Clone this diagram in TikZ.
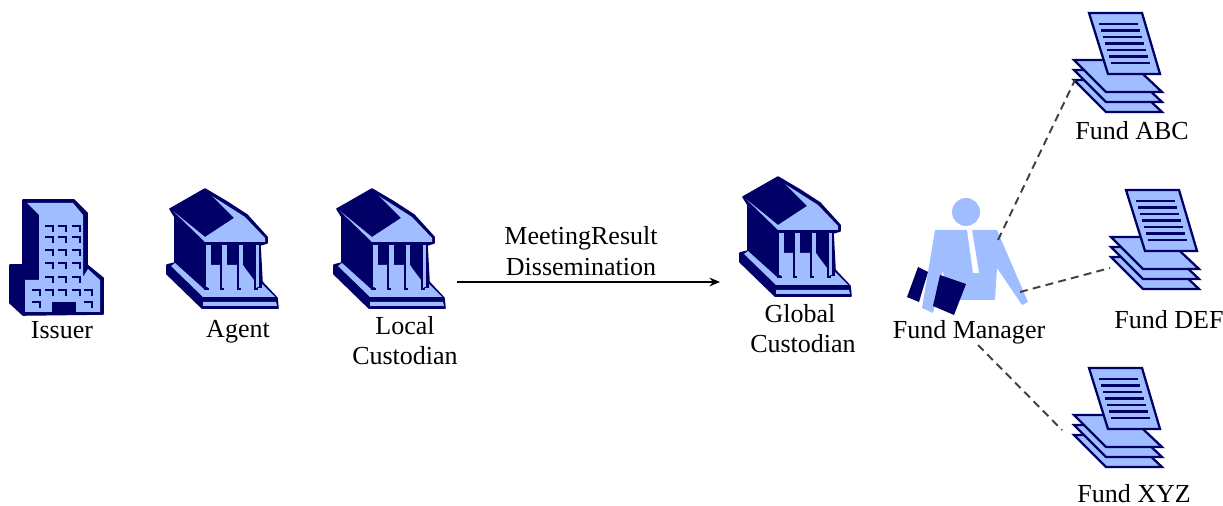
\documentclass[tikz,border=0pt]{standalone}
\usepackage{fontspec}
\setmainfont{Liberation Serif}
\usepackage{tikz}
\usetikzlibrary{arrows.meta}
\definecolor{navy}{HTML}{000066}
\definecolor{pale}{HTML}{A0BEFF}
\tikzset{
  lbl/.style = {font=\fontsize{14.8}{16}\selectfont, inner sep = 0, text = black},
  dashln/.style = {black!75, line width = 1.1pt, dash pattern = on 4.5pt off 3pt},
  lightfill/.style = {fill = pale, draw = navy, line width = 1.3pt, line join = miter},
  darkfill/.style = {fill = navy, draw = navy, line width = 0.9pt, line join = round},
  winln/.style = {navy, line width = 1.3pt},
  bank/.pic = {
    \draw [darkfill] (38, -1) -- (60, 12) -- (80, 25) -- (100, 47) -- (100, 53) -- (93, 55)
      -- (95, 92) -- (110, 108) -- (111, 118) -- (35, 118) -- (0, 84) -- (0, 75) -- (8, 73) -- (8, 27) -- (3, 19) -- cycle;
    \fill [pale] (45, 6) -- (78, 27) -- (98, 48) -- (98, 52) -- (38, 52) -- (6, 21) -- (38, 47) -- (67, 28) -- cycle;
    \fill [pale] (4, 76) -- (36, 107) -- (108, 107) -- (95, 94) -- (95, 98) -- (38, 100) -- (8, 73) -- cycle;
    \fill [pale] (44, 75) -- (76, 75) -- (78, 78) -- (90, 94) -- (90, 102) -- (40, 102) -- cycle;
    \fill [pale] (36, 112) -- (109, 112) -- (110, 116) -- (36, 116) -- cycle;
    \foreach \colx/\colw in {39/5, 55/5, 72/4, 89/3}
      \fill [pale] (\colx, 55) rectangle (\colx + \colw, 97);
    \foreach \colx in {54, 71, 88}
      \draw [navy, line width = 1.3pt] (\colx, 74) -- (\colx, 99) -- (\colx + 3, 99);
    \draw [navy, line width = 1.3pt] (38, 90) -- (38, 99) -- (42, 99);
  },
  tower/.pic = {
    \draw [darkfill] (13, 0) -- (64, 0) -- (77, 13) -- (77, 65) -- (93, 78) -- (93, 114) -- (13, 115) -- (0, 103) -- (0, 65) -- (13, 65) -- cycle;
    \fill [pale] (17, 3) -- (63, 3) -- (73, 15) -- (73, 77) -- (78, 69) -- (90, 80) -- (90, 112) -- (15, 112) -- (15, 80) -- (29, 80) -- (29, 15) -- cycle;
    \foreach \winy in {26, 37, 50, 63, 77}
      \foreach \winx in {35, 48, 62}
        \draw [winln] (\winx, \winy) -- (\winx + 8, \winy) -- (\winx + 8, \winy + 6);
    \foreach \winx in {22, 35, 48, 62, 74}
      \draw [winln] (\winx, 90) -- (\winx + 8, 90) -- (\winx + 8, 96);
    \foreach \winx in {22, 74}
      \draw [winln] (\winx, 102) -- (\winx + 8, 102) -- (\winx + 8, 108);
    \fill [navy] (42, 102) rectangle (66, 112);
  },
  docstack/.pic = {
    \foreach \layer in {20, 10, 0}
      \draw [lightfill] (1, 48 + \layer) -- (55, 48 + \layer) -- (89, 80 + \layer) -- (33, 80 + \layer) -- cycle;
    \draw [lightfill] (16, 1) -- (69, 1) -- (87, 62) -- (35, 62) -- cycle;
    \foreach \rowy in {0, ..., 6}
      \draw [navy, line width = 1.5pt] (26 + 2 * \rowy, 12 + 6.5 * \rowy) -- (65 + 2 * \rowy, 12 + 6.5 * \rowy);
  },
  manager/.pic = {
    \fill [pale] (58, 0) circle [radius = 14];
    \fill [pale] (27, 18) -- (89, 18) -- (120, 90) -- (114, 93) -- (89, 56) -- (87, 88) -- (38, 88) -- (35, 58) -- (25, 101) -- (14, 96) -- cycle;
    \fill [white] (59, 18) -- (64, 18) -- (71, 61) -- (65, 61) -- cycle;
    \fill [navy] (10, 55) -- (20, 60) -- (11, 90) -- (-1, 85) -- cycle;
    \fill [navy] (32, 63) -- (58, 72) -- (46, 103) -- (25, 94) -- cycle;
  }
}
\begin{document}
\begin{tikzpicture}[x=0.02cm, y=-0.02cm]
  \useasboundingbox (0, 0) rectangle (1223, 506);
  \pic (issuer) at (10, 200) {tower};
  \pic (agent) at (167, 190) {bank};
  \pic (localbank) at (334, 190) {bank};
  \pic (globalbank) at (740, 178) {bank};
  \pic (fundmgr) at (908, 212) {manager};
  \pic (abc) at (1073, 12) {docstack};
  \pic (def) at (1110, 189) {docstack};
  \pic (xyz) at (1073, 367) {docstack};
  \node (issuerlbl) at (62, 330) [lbl] {Issuer};
  \node (agentlbl) at (238, 332) [lbl] {Agent};
  \node (locallbl) at (405, 326) [lbl] {Local};
  \node (localcust) at (405, 356) [lbl] {Custodian};
  \node (resulta) at (581, 238) [lbl] {MeetingResult};
  \node (resultb) at (581, 267) [lbl] {Dissemination};
  \node (globallbl) at (800, 314) [lbl] {Global};
  \node (globalcust) at (803, 344) [lbl] {Custodian};
  \node (mgrlbl) at (969, 332) [lbl] {Fund Manager};
  \node (abclbl) at (1132, 131) [lbl] {Fund ABC};
  \node (deflbl) at (1169, 320) [lbl] {Fund DEF};
  \node (xyzlbl) at (1134, 494) [lbl] {Fund XYZ};
  \coordinate (arrowstart) at (457, 282);
  \coordinate (arrowend) at (720, 282);
  \coordinate (mgrtop) at (998, 240);
  \coordinate (mgrmid) at (1020, 292);
  \coordinate (mgrlow) at (978, 345);
  \coordinate (abcend) at (1075, 80);
  \coordinate (defend) at (1110, 268);
  \coordinate (xyzend) at (1062, 430);
  \draw [-{Stealth[length = 6pt, width = 5pt]}, line width = 0.7pt] (arrowstart) -- (arrowend);
  \draw [dashln] (mgrtop) -- (abcend);
  \draw [dashln] (mgrmid) -- (defend);
  \draw [dashln] (mgrlow) -- (xyzend);
\end{tikzpicture}
\end{document}
